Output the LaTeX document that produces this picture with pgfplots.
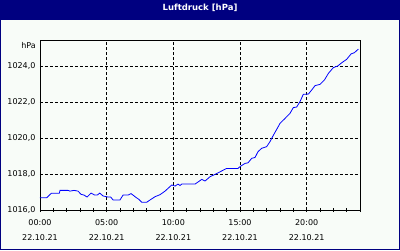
\documentclass[border=0pt]{standalone}
\usepackage{pgfplots}
\pgfplotsset{compat=1.18}
\usepackage{fontspec}
\setmainfont{DejaVu Sans}
\definecolor{navy}{RGB}{0,0,128}
\definecolor{bgc}{RGB}{248,252,248}
\begin{document}
\begin{tikzpicture}[x=1pt,y=1pt]
\path[use as bounding box] (-40,-40) rectangle (360,210);
\fill[bgc] (-40,-40) rectangle (360,210);
\fill[navy] (-40,190) rectangle (360,210);
\draw[navy,line width=1.5pt] (-39.25,-39.25) rectangle (359.25,209.25);
\node[white,font=\bfseries\fontsize{8.5}{10}\selectfont] at (160,202) {Luftdruck [hPa]};
\begin{axis}[
  scale only axis, width=320pt, height=170pt,
  xmin=0, xmax=24, ymin=1016, ymax=1025.444,
  axis background/.style={fill=bgc},
  axis line style={black, line width=0.8pt},
  xtick={0,5,10,15,20},
  minor xtick={1,2,3,4,6,7,8,9,11,12,13,14,16,17,18,19,21,22,23,24},
  xticklabels={{00:00\\[2pt]22.10.21},{05:00\\[2pt]22.10.21},{10:00\\[2pt]22.10.21},{15:00\\[2pt]22.10.21},{20:00\\[2pt]22.10.21}},
  xticklabel style={align=center, font=\fontsize{8}{13}\selectfont, yshift=-4pt},
  ytick={1016,1018,1020,1022,1024},
  yticklabel style={font=\fontsize{8}{10}\selectfont, xshift=1pt},
  /pgf/number format/.cd, assume math mode=true, fixed, fixed zerofill, precision=1, use comma, 1000 sep={},
  /pgfplots/.cd,
  xtick pos=bottom, ytick pos=left,
  tick align=center,
  major tick length=4pt, minor tick length=4pt,
  ytick style={draw=none},
  every tick/.style={black, line width=0.8pt},
  grid=major,
  major grid style={black, line width=0.8pt, dash pattern=on 3pt off 2pt},
  clip=true,
]
\addplot[blue, line width=0.8pt] coordinates {
(0,1016.68) (0.5,1016.68) (0.85,1016.93) (1.45,1016.93) (1.5,1017.09) (2.1,1017.09)
(2.25,1017.05) (2.55,1017.09) (2.85,1017.05) (3.08,1016.87) (3.3,1016.83) (3.53,1016.72)
(3.83,1016.94) (4.1,1016.83) (4.3,1016.83) (4.48,1016.94) (4.73,1016.78) (5.1,1016.72)
(5.3,1016.72) (5.48,1016.56) (6.0,1016.56) (6.23,1016.83) (6.6,1016.83) (6.83,1016.91)
(7.2,1016.7) (7.4,1016.6) (7.63,1016.43) (8.0,1016.43) (8.3,1016.58) (8.63,1016.74)
(9.0,1016.85) (9.38,1017.05) (9.88,1017.39) (10.13,1017.33) (10.35,1017.44) (10.5,1017.36)
(10.63,1017.44) (11.63,1017.44) (12.13,1017.70) (12.38,1017.61) (12.75,1017.85) (13.13,1017.98)
(13.63,1018.17) (14.0,1018.31) (14.85,1018.31) (15.0,1018.41) (15.38,1018.59) (15.6,1018.62)
(15.88,1018.87) (16.13,1018.92) (16.35,1019.24) (16.63,1019.43) (17.0,1019.52) (17.25,1019.80)
(17.5,1020.15) (17.8,1020.54) (18.0,1020.81) (18.38,1021.09) (18.75,1021.37) (19.0,1021.69)
(19.25,1021.72) (19.5,1022.02) (19.75,1022.43) (20.13,1022.44) (20.38,1022.67) (20.63,1022.91)
(21.0,1022.98) (21.33,1023.22) (21.63,1023.59) (22.0,1023.91) (22.33,1024.0) (22.63,1024.18)
(23.0,1024.37) (23.33,1024.67) (23.58,1024.74) (23.88,1024.94)
};
\end{axis}
\node[anchor=east,font=\fontsize{8}{10}\selectfont,inner sep=0pt] at (-4,164.5) {hPa};
\end{tikzpicture}
\end{document}
